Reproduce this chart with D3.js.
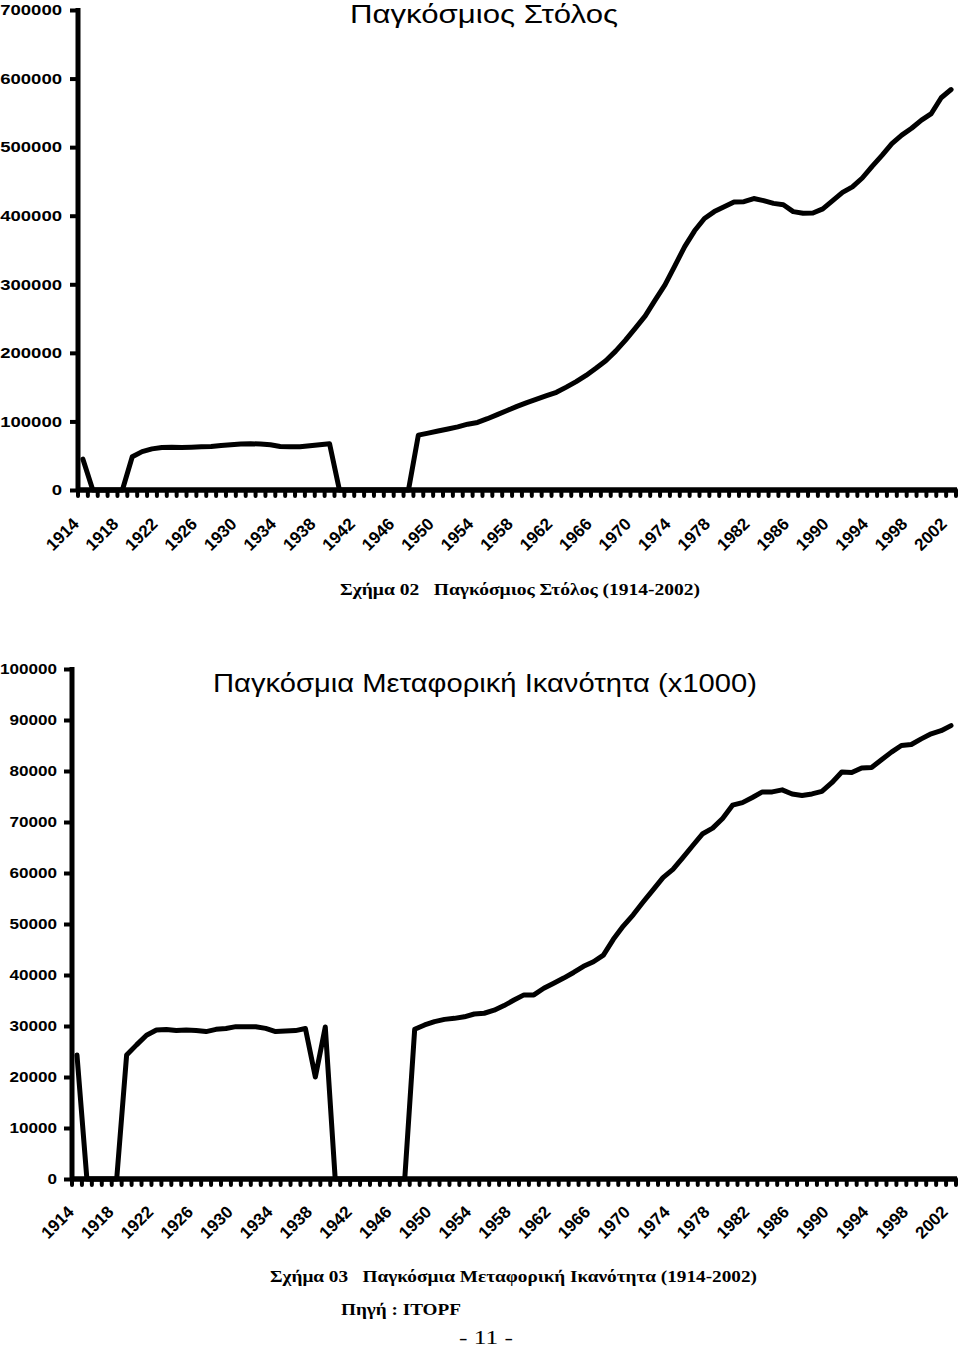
<!DOCTYPE html>
<html><head><meta charset="utf-8">
<script src="https://cdn.jsdelivr.net/npm/d3@7/dist/d3.min.js"></script>
<style>body{margin:0;background:#fff} svg{display:block} text{white-space:pre}</style>
</head><body>
<svg id="c" width="960" height="1347"></svg>
<script>
// ---------- DATA ----------
const years = [1914,1915,1916,1917,1918,1919,1920,1921,1922,1923,1924,1925,1926,1927,1928,1929,
1930,1931,1932,1933,1934,1935,1936,1937,1938,1939,1940,1941,1942,1943,1944,1945,1946,1947,1948,1949,
1950,1951,1952,1953,1954,1955,1956,1957,1958,1959,1960,1961,1962,1963,1964,1965,1966,1967,1968,1969,
1970,1971,1972,1973,1974,1975,1976,1977,1978,1979,1980,1981,1982,1983,1984,1985,1986,1987,1988,1989,
1990,1991,1992,1993,1994,1995,1996,1997,1998,1999,2000,2001,2002];

const labelYears = [1914,1918,1922,1926,1930,1934,1938,1942,1946,1950,1954,1958,1962,1966,1970,1974,
1978,1982,1986,1990,1994,1998,2002];

// World fleet (number of ships)
const fleet = [45000,0,0,0,0,48500,56000,60000,62000,62500,62000,62500,63000,63500,65000,66000,
67000,67500,67000,66000,63500,63000,63000,64500,66000,67500,0,0,0,0,0,0,0,0,80000,83000,
86000,89000,92000,96000,98500,104000,110000,116000,122000,127500,132500,137500,142500,150000,158000,167000,177500,188500,202500,218500,
236000,254000,277000,299000,327000,355000,378000,396000,406000,413000,420000,420500,425000,422000,418000,416000,406000,403500,404000,410000,
422000,434000,442000,455000,472000,488000,505000,517500,527500,539500,549000,572000,584000];

// World carrying capacity (x1000)
const capacity = [24300,0,0,0,0,24300,26300,28200,29200,29300,29100,29200,29100,28900,29350,29500,
29870,29870,29870,29540,28900,29000,29100,29500,20000,29800,0,0,0,0,0,0,0,0,29350,30200,
30850,31300,31500,31800,32350,32500,33100,34000,35100,36100,36100,37400,38400,39400,40500,41700,42600,43900,47000,49600,
51800,54300,56700,59100,60700,63000,65400,67700,68800,70700,73300,73800,74800,75900,75900,76300,75500,75200,75500,76000,
77700,79800,79700,80600,80700,82200,83700,85000,85200,86300,87300,87900,88900];

const fleetTicks = [0,100000,200000,300000,400000,500000,600000,700000];
const capTicks = [0,10000,20000,30000,40000,50000,60000,70000,80000,90000,100000];

const title1 = "Παγκόσμιος Στόλος";
const title2 = "Παγκόσμια Μεταφορική Ικανότητα (x1000)";
const caption1 = "Σχήμα 02   Παγκόσμιος Στόλος (1914-2002)";
const caption2 = "Σχήμα 03   Παγκόσμια Μεταφορική Ικανότητα (1914-2002)";
const source = "Πηγή : ITOPF";
const pageNo = "- 11 -";

// ---------- DRAW ----------
const svg = d3.select("#c");
svg.append("rect").attr("width",960).attr("height",1347).attr("fill","#fff");
const SANS = "'Liberation Sans', Arial, sans-serif";
const SERIF = "'Liberation Serif', 'Times New Roman', serif";

function chart(cfg){
  const g = svg.append("g");
  const x = d3.scaleBand().domain(years).range([cfg.left, cfg.right]).padding(0);
  const y = d3.scaleLinear().domain([0, cfg.yMax]).range([cfg.y0, cfg.yTop]);

  // y axis
  const ya = g.append("g").attr("transform",`translate(${cfg.left},0)`)
    .call(d3.axisLeft(y).tickValues(cfg.ticks).tickSize(8).tickSizeOuter(0).tickPadding(cfg.pad).tickFormat(d3.format("d")));
  ya.select(".domain").attr("stroke","#000").attr("stroke-width",5).attr("d",`M0,${cfg.yTop-2}V${cfg.y0+2}`);
  ya.selectAll(".tick line").attr("stroke","#000").attr("stroke-width",4);
  ya.selectAll(".tick text").attr("fill","#000").style("font-family",SANS).style("font-weight","bold")
    .style("font-size","15px").each(function(d){
      const n = String(d).length;
      d3.select(this).attr("textLength", n*cfg.charW).attr("lengthAdjust","spacingAndGlyphs");
    });

  // x axis line
  g.append("line").attr("x1",cfg.left-2).attr("x2",cfg.right+1).attr("y1",cfg.y0).attr("y2",cfg.y0)
    .attr("stroke","#000").attr("stroke-width",5.5);
  // category boundary ticks
  const bounds = years.map(yr => x(yr)).concat([cfg.right]);
  g.append("g").selectAll("line").data(bounds).join("line")
    .attr("x1",d=>d).attr("x2",d=>d).attr("y1",cfg.y0).attr("y2",cfg.y0+6)
    .attr("stroke","#000").attr("stroke-width",4).attr("stroke-linecap","round");

  // x labels
  const xa = g.append("g").attr("transform",`translate(${x.bandwidth()/2},${cfg.y0})`)
    .call(d3.axisBottom(x).tickValues(labelYears).tickSize(0).tickSizeOuter(0));
  xa.select(".domain").remove();
  xa.selectAll(".tick text").attr("fill","#000").style("font-family",SANS).style("font-weight","bold")
    .style("font-size","17px").attr("x",0).attr("y",0).attr("dy",0)
    .attr("text-anchor","end").attr("transform",`translate(${cfg.lx},${cfg.ly}) rotate(-45)`);

  // series line
  const line = d3.line().x((d,i)=>x(years[i]) + x.bandwidth()/2).y(d=>y(d));
  g.append("path").datum(cfg.values).attr("d",line).attr("fill","none")
    .attr("stroke","#000").attr("stroke-width",5).attr("stroke-linejoin","round").attr("stroke-linecap","round");
}

chart({left:78, right:956, y0:490, yTop:10, yMax:700000, ticks:fleetTicks, values:fleet, pad:8, charW:10.3, lx:-8, ly:35});
chart({left:72, right:956, y0:1179, yTop:669, yMax:100000, ticks:capTicks, values:capacity, pad:7, charW:9.5, lx:-7, ly:34});

function label(txt, x, y, size, family, weight, len){
  svg.append("text").attr("x",x).attr("y",y).text(txt)
    .style("font-family",family).style("font-weight",weight).style("font-size",size+"px")
    .attr("fill","#000").attr("textLength",len).attr("lengthAdjust","spacingAndGlyphs");
}
label(title1, 350, 23, 25.5, SANS, "normal", 268);
label(title2, 213, 692, 25.5, SANS, "normal", 544);
label(caption1, 340, 595, 17, SERIF, "bold", 360);
label(caption2, 270, 1282, 17, SERIF, "bold", 487);
label(source, 341, 1315, 17, SERIF, "bold", 120);
label(pageNo, 459, 1344, 18, SERIF, "normal", 54);
</script>
</body></html>
